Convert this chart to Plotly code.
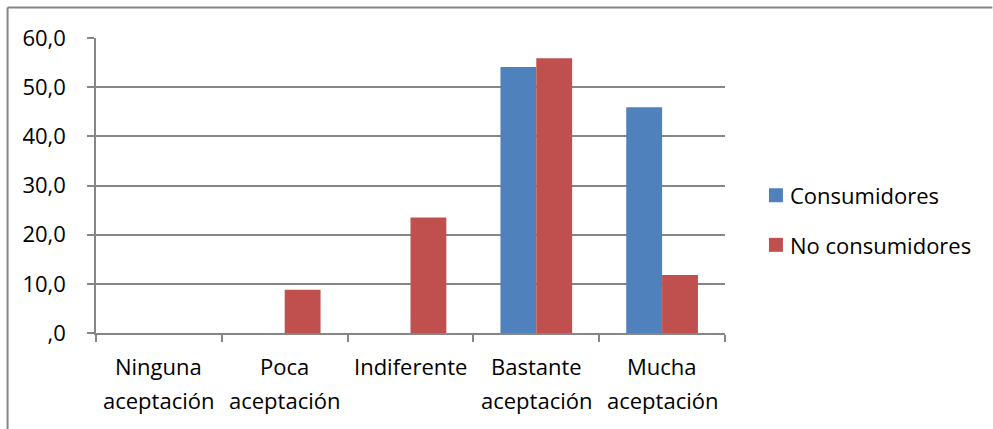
import plotly.graph_objects as go

# Survey answers: acceptance level by group (percent)
categorias = ["Ninguna aceptación", "Poca aceptación", "Indiferente",
              "Bastante aceptación", "Mucha aceptación"]
etiqueta_linea1 = ["Ninguna", "Poca", "Indiferente", "Bastante", "Mucha"]
etiqueta_linea2 = ["aceptación", "aceptación", "", "aceptación", "aceptación"]
consumidores = [0.0, 0.0, 0.0, 54.1, 45.9]
no_consumidores = [0.0, 8.8, 23.5, 55.9, 11.8]
ticks_y = [0, 10, 20, 30, 40, 50, 60]
ticks_y_texto = [",0", "10,0", "20,0", "30,0", "40,0", "50,0", "60,0"]
series = ["Consumidores", "No consumidores"]
colores = ["#4F81BD", "#C0504D"]

FONT = "Open Sans"
GRIS = "#868686"

fig = go.Figure()
for nombre, valores, color in zip(series, [consumidores, no_consumidores], colores):
    fig.add_trace(go.Bar(x=categorias, y=valores, name=nombre,
                         marker=dict(color=color, line=dict(width=0)),
                         showlegend=False))

# two-line category labels under the axis
for cat, l1, l2 in zip(categorias, etiqueta_linea1, etiqueta_linea2):
    fig.add_annotation(x=cat, y=-0.1117, xref="x", yref="paper", text=l1,
                       showarrow=False, yanchor="middle",
                       font=dict(family=FONT, size=22, color="#000000"))
    if l2:
        fig.add_annotation(x=cat, y=-0.2267, xref="x", yref="paper", text=l2,
                           showarrow=False, yanchor="middle",
                           font=dict(family=FONT, size=22, color="#000000"))

# legend: colour swatch + series name
leyenda_y = [0.467, 0.2988]
for nombre, color, yc in zip(series, colores, leyenda_y):
    fig.add_shape(type="rect", xref="paper", yref="paper",
                  x0=1.0699, x1=1.0921, y0=yc - 0.0237, y1=yc + 0.0237,
                  fillcolor=color, line=dict(width=0))
    fig.add_annotation(x=1.1000, y=yc, xref="paper", yref="paper", text=nombre,
                       showarrow=False, xanchor="left", yanchor="middle",
                       font=dict(family=FONT, size=22, color="#000000"))

# chart-area frame (left and top edges, up to the page border)
fig.add_shape(type="line", xref="paper", yref="paper",
              x0=-0.1406, x1=-0.1406, y0=-0.325, y1=1.1032,
              line=dict(color=GRIS, width=2))
fig.add_shape(type="line", xref="paper", yref="paper",
              x0=-0.1406, x1=1.425, y0=1.1032, y1=1.1032,
              line=dict(color=GRIS, width=2))

fig.update_layout(
    width=993, height=429,
    margin=dict(l=95.5, r=268, t=37.5, b=96, pad=0),
    paper_bgcolor="white", plot_bgcolor="white",
    barmode="group", bargap=0.43, bargroupgap=0,
    font=dict(family=FONT, color="#000000"),
    showlegend=False,
    xaxis=dict(showgrid=False, showline=True, linecolor=GRIS, linewidth=1.5,
               ticks="outside", tickson="boundaries", ticklen=7,
               tickcolor=GRIS, tickwidth=1.5, showticklabels=False,
               zeroline=False),
    yaxis=dict(range=[0, 60], tickvals=ticks_y, ticktext=ticks_y_texto,
               showgrid=True, gridcolor=GRIS, gridwidth=1.5,
               showline=True, linecolor=GRIS, linewidth=1.5,
               ticks="outside", ticklen=7, tickcolor=GRIS, tickwidth=1.5,
               ticklabelstandoff=17, zeroline=False,
               tickfont=dict(family=FONT, size=22, color="#000000")),
)

fig.write_html("out.html")
